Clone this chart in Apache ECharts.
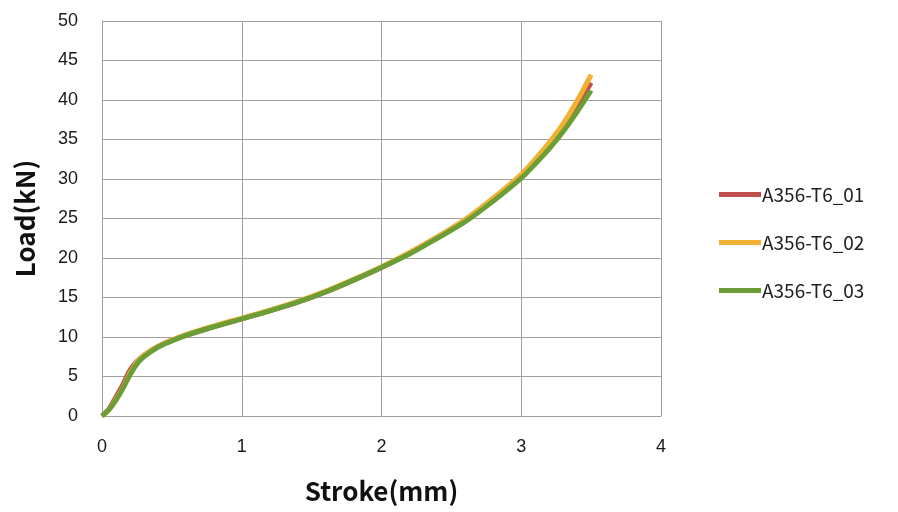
<!DOCTYPE html>
<html><head><meta charset="utf-8">
<script src="https://cdn.jsdelivr.net/npm/echarts@6/dist/echarts.min.js"></script>
<style>html,body{margin:0;padding:0;background:#fff}#c{width:898px;height:512px}</style>
</head><body><div id="c"></div>
<script>
var stroke = [0, 0.05, 0.1, 0.15, 0.2, 0.25, 0.3, 0.4, 0.5, 0.6, 0.8, 1.0, 1.2, 1.4, 1.6, 1.8, 2.0, 2.2, 2.4, 2.6, 2.8, 3.0, 3.1, 3.2, 3.3, 3.4, 3.5];
var load01 = [0, 0.9, 2.4, 4.0, 5.8, 6.9, 7.7, 8.8, 9.6, 10.2, 11.3, 12.3, 13.3, 14.4, 15.7, 17.2, 18.8, 20.6, 22.6, 24.8, 27.5, 30.4, 32.2, 34.3, 36.6, 39.3, 42.2];
var load02 = [0, 0.8, 2.1, 3.6, 5.4, 6.8, 7.7, 8.8, 9.6, 10.3, 11.4, 12.4, 13.4, 14.5, 15.8, 17.3, 18.9, 20.7, 22.7, 24.9, 27.6, 30.6, 32.5, 34.6, 37.0, 39.9, 43.2];
var load03 = [0, 0.8, 2.0, 3.5, 5.2, 6.6, 7.5, 8.7, 9.5, 10.2, 11.3, 12.3, 13.3, 14.4, 15.7, 17.2, 18.8, 20.5, 22.5, 24.6, 27.2, 30.1, 31.9, 33.8, 36.0, 38.5, 41.2];
var names = ['A356-T6_01', 'A356-T6_02', 'A356-T6_03'];
var colors = ['#c0504d', '#f2b134', '#6b9e37'];
var loads = [load01, load02, load03];

function pairs(ys){ return stroke.map(function(x,i){ return [x, ys[i]]; }); }
var font = 'Noto Sans CJK KR';
var tickFont = 'Liberation Sans';
var chart = echarts.init(document.getElementById('c'), null, {renderer:'canvas'});
chart.setOption({
  animation:false,
  backgroundColor:'#fff',
  grid:{left:102, right:237, top:21, bottom:96, containLabel:false},
  legend:{
    orient:'vertical', left:714, top:180, itemGap:29,
    itemWidth:42, itemHeight:5, icon:'rect',
    textStyle:{fontFamily:font, fontSize:19, color:'#222', padding:[0,0,0,-4]},
    data:names
  },
  xAxis:{
    type:'value', min:0, max:4, interval:1,
    name:'Stroke(mm)', nameLocation:'middle', nameGap:62,
    nameTextStyle:{fontFamily:font, fontSize:26, fontWeight:'bold', color:'#111'},
    axisLine:{show:true, lineStyle:{color:'#a0a0a0', width:1}},
    axisTick:{show:false},
    axisLabel:{fontFamily:tickFont, fontSize:18, color:'#1a1a1a', margin:22},
    splitLine:{show:true, lineStyle:{color:'#a0a0a0', width:1}}
  },
  yAxis:{
    type:'value', min:0, max:50, interval:5,
    name:'Load(kN)', nameLocation:'middle', nameGap:64, nameRotate:90,
    nameTextStyle:{fontFamily:font, fontSize:26, fontWeight:'bold', color:'#111'},
    axisLine:{show:true, lineStyle:{color:'#a0a0a0', width:1}},
    axisTick:{show:false},
    axisLabel:{fontFamily:tickFont, fontSize:18, color:'#1a1a1a', margin:24},
    splitLine:{show:true, lineStyle:{color:'#a0a0a0', width:1}}
  },
  series: names.map(function(n,i){
    return {name:n, type:'line', data:pairs(loads[i]), smooth:0.3, showSymbol:false, symbol:'none',
      lineStyle:{color:colors[i], width:5}, itemStyle:{color:colors[i]}, z:2+i};
  })
});
</script></body></html>
